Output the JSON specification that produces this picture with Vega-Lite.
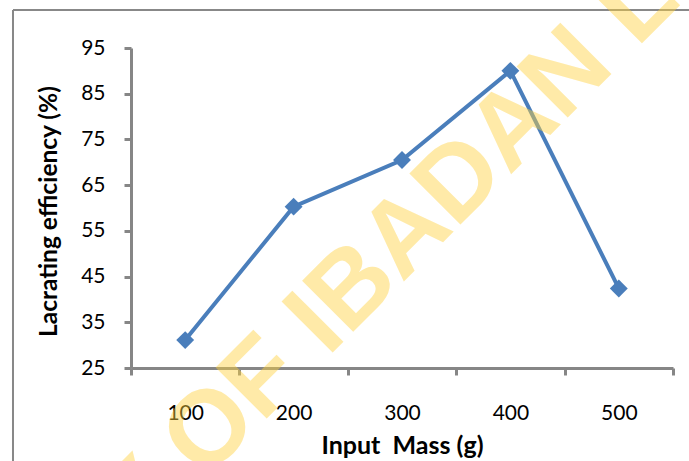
{
  "$schema": "https://vega.github.io/schema/vega-lite/v6.json",
  "width": 542,
  "height": 320,
  "autosize": {"type": "none"},
  "padding": {"left": 131, "top": 48, "right": 16, "bottom": 93},
  "background": "white",
  "config": {"view": {"stroke": null}, "font": "Lato"},
  "datasets": {
    "lacrating": [
      {"mass": 100, "efficiency": 31.1},
      {"mass": 200, "efficiency": 60.3},
      {"mass": 300, "efficiency": 70.5},
      {"mass": 400, "efficiency": 90.0},
      {"mass": 500, "efficiency": 42.4}
    ],
    "frame": [{}],
    "watermark": [{"text": "UNIVERSITY OF IBADAN LIBRARY"}]
  },
  "layer": [
    {
      "data": {"name": "lacrating"},
      "mark": {"type": "line", "color": "#4A7EBB", "strokeWidth": 4},
      "encoding": {
        "x": {
          "field": "mass",
          "type": "quantitative",
          "scale": {"domain": [50, 550], "nice": false, "zero": false},
          "axis": {
            "title": "Input\u00a0 Mass (g)",
            "values": [50, 100, 150, 200, 250, 300, 350, 400, 450, 500, 550],
            "labelExpr": "datum.value % 100 == 0 ? datum.label : ''",
            "tickOpacity": {"condition": {"test": "datum.value % 100 == 50", "value": 1}, "value": 0},
            "grid": false,
            "domainColor": "#868686",
            "domainWidth": 3,
            "tickColor": "#868686",
            "tickWidth": 3,
            "tickSize": 7,
            "labelPadding": 27,
            "labelFont": "Lato",
            "labelFontSize": 21,
            "labelColor": "black",
            "labelOverlap": false,
            "labelFlush": false,
            "titleFont": "Lato",
            "titleFontWeight": "bold",
            "titleFontSize": 25,
            "titleColor": "black",
            "titleBaseline": "alphabetic",
            "titleX": 271,
            "titleY": 85
          }
        },
        "y": {
          "field": "efficiency",
          "type": "quantitative",
          "scale": {"domain": [25, 95], "nice": false, "zero": false},
          "axis": {
            "title": "Lacrating efficiency (%)",
            "values": [25, 35, 45, 55, 65, 75, 85, 95],
            "grid": false,
            "domainColor": "#868686",
            "domainWidth": 3,
            "tickColor": "#868686",
            "tickWidth": 3,
            "tickSize": 7,
            "labelPadding": 19,
            "labelFont": "Lato",
            "labelFontSize": 21,
            "labelColor": "black",
            "labelOverlap": false,
            "labelFlush": false,
            "titleFont": "Lato",
            "titleFontWeight": "bold",
            "titleFontSize": 24.5,
            "titleColor": "black",
            "titleAngle": -90,
            "titleAlign": "center",
            "titleBaseline": "alphabetic",
            "titleX": -75,
            "titleY": 163
          }
        }
      }
    },
    {
      "data": {"name": "lacrating"},
      "mark": {"type": "point", "shape": "diamond", "filled": true, "size": 320, "color": "#4A7EBB", "opacity": 1},
      "encoding": {
        "x": {"field": "mass", "type": "quantitative"},
        "y": {"field": "efficiency", "type": "quantitative"}
      }
    },
    {
      "data": {"name": "frame"},
      "mark": {"type": "rule", "color": "#888888", "strokeWidth": 2},
      "encoding": {
        "x": {"datum": -58.86, "type": "quantitative"},
        "x2": {"datum": 640},
        "y": {"datum": 103.3, "type": "quantitative"}
      }
    },
    {
      "data": {"name": "frame"},
      "mark": {"type": "rule", "color": "#888888", "strokeWidth": 2},
      "encoding": {
        "x": {"datum": -58.86, "type": "quantitative"},
        "y": {"datum": 103.3, "type": "quantitative"},
        "y2": {"datum": -10}
      }
    },
    {
      "data": {"name": "watermark"},
      "mark": {
        "type": "text",
        "font": "Liberation Sans",
        "fontWeight": "bold",
        "fontSize": 105,
        "angle": -45,
        "align": "center",
        "baseline": "middle",
        "color": "#FFD23F",
        "opacity": 0.45
      },
      "encoding": {
        "x": {"datum": 232.7, "type": "quantitative"},
        "y": {"datum": 37.5, "type": "quantitative"},
        "text": {"field": "text"}
      }
    }
  ]
}
